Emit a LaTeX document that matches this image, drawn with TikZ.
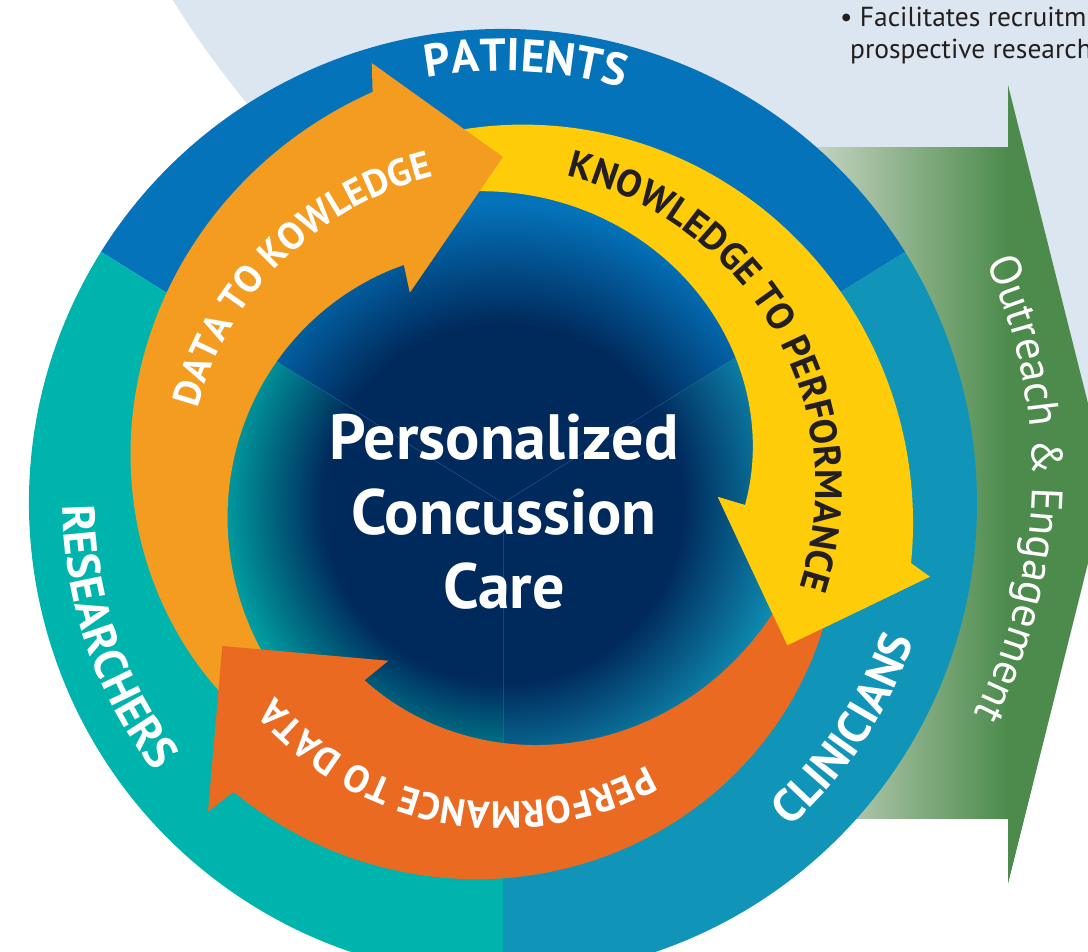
\documentclass[tikz,border=0pt]{standalone}
\usepackage{fontspec}
\setmainfont{PT Sans}
\usetikzlibrary{decorations.text}

\definecolor{patientblue}{RGB}{4,115,186}
\definecolor{researchteal}{RGB}{0,180,174}
\definecolor{clinicblue}{RGB}{16,149,185}
\definecolor{discnavy}{RGB}{0,42,92}
\definecolor{dataorange}{RGB}{243,156,31}
\definecolor{knowyellow}{RGB}{254,204,8}
\definecolor{perfred}{RGB}{234,106,34}
\definecolor{outreachgreen}{RGB}{76,139,76}
\definecolor{outreachpale}{RGB}{205,216,200}
\definecolor{backblue}{RGB}{220,230,240}
\definecolor{notegray}{RGB}{35,31,32}
\definecolor{seamblue}{RGB}{60,130,190}

\pgfdeclareradialshading{patientsdisc}{\pgfpoint{0bp}{0bp}}{color(0bp)=(discnavy); color(15bp)=(discnavy); color(25bp)=(patientblue); color(50bp)=(patientblue)}
\pgfdeclareradialshading{researchersdisc}{\pgfpoint{0bp}{0bp}}{color(0bp)=(discnavy); color(15bp)=(discnavy); color(25bp)=(researchteal); color(50bp)=(researchteal)}
\pgfdeclareradialshading{cliniciansdisc}{\pgfpoint{0bp}{0bp}}{color(0bp)=(discnavy); color(15bp)=(discnavy); color(25bp)=(clinicblue); color(50bp)=(clinicblue)}

\newcommand{\ringfont}{\fontsize{46}{46}\selectfont\bfseries}
\newcommand{\loopfont}{\fontsize{38}{38}\selectfont\bfseries}
\newcommand{\outreachfont}{\fontsize{44}{44}\selectfont}

\tikzset{
  textarc/.style={decorate, decoration={text along path, text align=center, text color=#1}},
  textarc/.default=white,
  centertext/.style={anchor=base, text=white, font=\fontsize{64}{64}\selectfont\bfseries},
  notetext/.style={anchor=base west, inner sep=0pt, text=notegray, font=\fontsize{27.5}{27.5}\selectfont},
  seamline/.style={seamblue, line width=0.6pt, opacity=0.35}
}

\begin{document}
\begin{tikzpicture}[x=1pt, y=1pt]

\useasboundingbox (-503,-449) rectangle (585,503);

%Background
\fill[backblue] (473,1001) circle (945);

%Outreach arrow
\shade[left color=outreachpale, right color=outreachgreen] (300,-316) rectangle (505,355);
\fill[outreachgreen] (505,418) -- (605,20) -- (505,-381) -- cycle;

%Groups
\fill[patientblue] (0,0) -- (32:474) arc[start angle=32, end angle=148, radius=474] -- cycle;
\fill[researchteal] (0,0) -- (148:474) arc[start angle=148, end angle=270, radius=474] -- cycle;
\fill[clinicblue] (0,0) -- (270:474) arc[start angle=270, end angle=392, radius=474] -- cycle;

\foreach \shd/\a/\b in {patientsdisc/32/148, researchersdisc/148/270, cliniciansdisc/270/392} {
  \begin{scope}
    \clip (0,0) -- (\a:310) arc[start angle=\a, end angle=\b, radius=310] -- cycle;
    \shade[shading=\shd] (0,0) circle (300);
  \end{scope}
}
\foreach \a in {32,148,270} \draw[seamline] (0,0) -- (\a:300);

\path[textarc, decoration={text={|\ringfont|PATIENTS}}] (147:432) arc[start angle=147, end angle=27, radius=432];
\path[textarc, decoration={text={|\ringfont|RESEARCHERS}}] (139:440) arc[start angle=139, end angle=259, radius=440];
\path[textarc, decoration={text={|\ringfont|CLINICIANS}}] (-93.5:433) arc[start angle=-93.5, end angle=26.5, radius=433];

%Arrows
\fill[knowyellow] plot[smooth, domain=98:-8.4, samples=40] (\x:{380+(84-\x)*0.352})
  -- (-9.8:433) -- (-26.6:318) -- (1.6:215) -- (-0.5:242)
  -- plot[smooth, domain=-0.5:98, samples=40] (\x:{242.56+1.1189*\x-0.003981*\x*\x}) -- cycle;
\fill[dataorange] plot[smooth, domain=220:107.6, samples=40] (\x:{341+0.857*(213-\x)})
  -- (106.6:459) -- (90:346) -- (113.9:230) -- (112.6:258)
  -- plot[smooth, domain=112.6:220, samples=40] (\x:{283-0.255*(211-\x)}) -- cycle;
\fill[perfred] plot[smooth, domain=348:227, samples=40] (\x:{350+0.46*(325-\x)})
  -- (226.3:427) -- (207:315) -- (234:195) -- (232:225)
  -- plot[smooth, domain=232:348, samples=40] (\x:{240+0.526*(\x-270)+0.00347*(\x-270)*(\x-270)}) -- cycle;
\fill[knowyellow] (-8.4:412.5) -- (-9.8:433) -- (-26.6:318) -- (1.6:215) -- (-0.5:242) -- cycle;

\path[textarc, decoration={text={|\loopfont|DATA TO KOWLEDGE}}]
  plot[smooth, domain=198:69, samples=30] (\x:{320+(162-\x)*0.23});
\path[textarc=notegray, decoration={text={|\loopfont|KNOWLEDGE TO PERFORMANCE}}]
  plot[smooth, domain=100:-39, samples=30] (\x:{308+(\x+16)*0.263});
\path[textarc, decoration={text={|\loopfont|PERFORMANCE TO DATA}}] (-20.5:299) arc[start angle=-20.5, end angle=-180.5, radius=299];

%Centre
\node[centertext] (personalized) at (1,43) {Personalized};
\node[centertext] (concussion) at (1,-32) {Concussion};
\node[centertext] (care) at (1,-106) {Care};

\path[textarc, shift={(11,27)}, decoration={text={|\outreachfont|Outreach {\&} Engagement}}] (58.5:518) arc[start angle=58.5, end angle=-61.5, radius=518];

%Note
\node[notetext] (bulletline) at (337,476) {\textbullet\ Facilitates recruitm};
\node[notetext] (researchline) at (347,444) {prospective research};

\end{tikzpicture}
\end{document}
